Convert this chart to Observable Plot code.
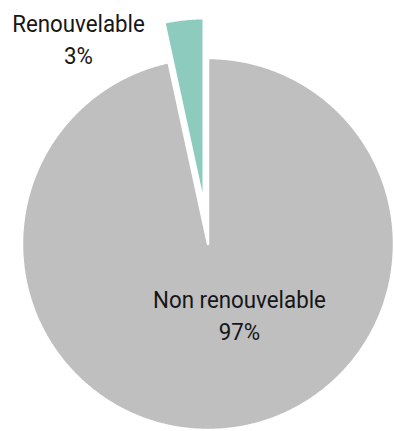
<!DOCTYPE html>
<html><head><meta charset="utf-8">
<script src="https://cdn.jsdelivr.net/npm/d3@7"></script>
<script src="https://cdn.jsdelivr.net/npm/@observablehq/plot@0.6"></script>
<style>html,body{margin:0;padding:0;background:#fff}#chart svg{display:block}</style>
</head><body><div id="chart"></div>
<script>
// Data
const categories = ["Non renouvelable", "Renouvelable"];
const shares = [96.6, 3.4];
const shareLabels = ["97%", "3%"];
const colors = ["#bfbfbf", "#8ecbbf"];

// Layout
const W = 394, H = 431, cx = 207.5, cy = 243.5, R = 186;
const explode = [0, 40];
const labelPos = [[31.5, -69.5], [-129.5, 206.5]];
const squeeze = 0.93;

const arcs = d3.pie().sort(null)(shares);
const rows = [];
arcs.forEach((a, i) => {
  const mid = (a.startAngle + a.endAngle) / 2;
  const ox = explode[i] * Math.sin(mid), oy = explode[i] * Math.cos(mid);
  const pts = [[ox, oy]];
  const n = Math.max(2, Math.ceil((a.endAngle - a.startAngle) / (Math.PI / 720)));
  for (let k = 0; k <= n; k++) {
    const t = a.startAngle + (a.endAngle - a.startAngle) * k / n;
    pts.push([ox + R * Math.sin(t), oy + R * Math.cos(t)]);
  }
  pts.push([ox, oy]);
  pts.forEach(p => rows.push({cat: categories[i], x: p[0], y: p[1]}));
});
const texts = categories.map((c, i) => ({cat: c, text: c + "\n" + shareLabels[i], x: labelPos[i][0], y: labelPos[i][1]}));

const chart = Plot.plot({
  width: W, height: H,
  margin: 0,
  style: {fontFamily: "Roboto, 'Liberation Sans', sans-serif", background: "#fff"},
  x: {domain: [-cx, W - cx], axis: null},
  y: {domain: [cy - H, cy], axis: null},
  color: {domain: categories, range: colors},
  marks: [
    Plot.line(rows, {x: "x", y: "y", z: "cat", fill: "cat", stroke: "white", strokeWidth: 2.5, strokeLinejoin: "miter", curve: "linear"}),
    Plot.text(texts, {x: "x", y: "y", text: "text", fontSize: 24, lineHeight: 1.35, fill: "#161616", lineAnchor: "middle", textAnchor: "middle"})
  ]
});
// condense the label glyphs horizontally around their anchor
d3.select(chart).selectAll("text").each(function() {
  const t = this.getAttribute("transform");
  if (t) this.setAttribute("transform", t + ` scale(${squeeze},1)`);
});
document.getElementById("chart").appendChild(chart);
</script></body></html>
